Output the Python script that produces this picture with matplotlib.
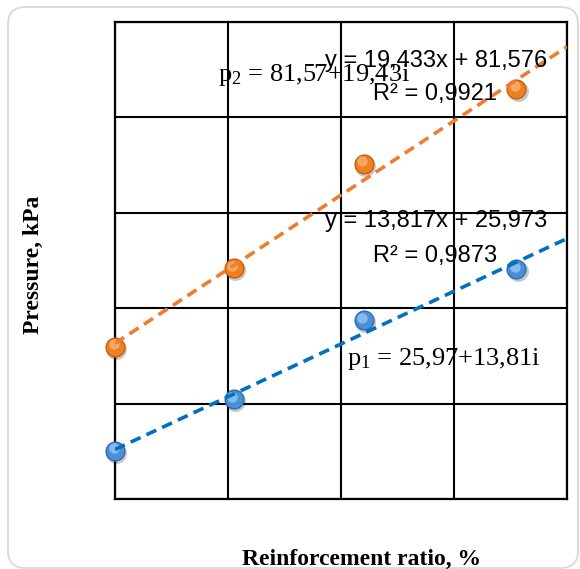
import numpy as np
import matplotlib
matplotlib.use('Agg')
import matplotlib.pyplot as plt
from matplotlib.patches import FancyBboxPatch
from matplotlib.transforms import offset_copy

plt.rcParams['mathtext.fontset'] = 'custom'
plt.rcParams['mathtext.rm'] = 'Liberation Serif'
plt.rcParams['mathtext.it'] = 'Liberation Serif:italic'

# measured data: reinforcement ratio (%) vs pressure (kPa)
ratio = [0.0, 2.1, 4.4, 7.1]
p_lower = [25.2, 52.4, 93.8, 120.4]
p_upper = [79.8, 121.0, 175.6, 214.9]

# linear trendlines (slope, intercept) and R^2
fit_lower = (13.817, 25.973)
fit_upper = (19.433, 81.576)
r2_lower = 0.9873
r2_upper = 0.9921

# rounded model equations written next to the data
eq_lower = ('25,97', '13,81')
eq_upper = ('81,57', '19,43')

x_lim = (0, 8)
y_lim = (0, 250)
x_grid = [0, 2, 4, 6, 8]
y_grid = [0, 50, 100, 150, 200, 250]

ORANGE = '#ED7D31'
BLUE = '#0070C0'
SERIF = ['Liberation Serif', 'DejaVu Serif']
SANS = ['Liberation Sans', 'DejaVu Sans']


def fmt(v, nd):
    return f'{v:.{nd}f}'.replace('.', ',')


def sphere(ax, x, y, base, light, dark):
    """Excel-like glossy markers: shadow, body and highlight."""
    shadow = offset_copy(ax.transData, fig=ax.figure, x=1.0, y=-1.6, units='points')
    ax.plot(x, y, 'o', ms=15, color='#000000', alpha=0.22, mew=0,
            transform=shadow, zorder=3, clip_on=False)
    ax.plot(x, y, 'o', ms=14.5, color=dark, mew=0, zorder=4, clip_on=False)
    ax.plot(x, y, 'o', ms=12.5, color=base, mew=0, zorder=4, clip_on=False)
    hl = offset_copy(ax.transData, fig=ax.figure, x=-1.0, y=1.8, units='points')
    ax.plot(x, y, 'o', ms=7.5, color=light, mew=0, alpha=0.75,
            transform=hl, zorder=4, clip_on=False)


def fig_text(px, py, s, **kw):
    fig.text(px / 580, 1 - py / 569, s, zorder=6, **kw)


fig = plt.figure(figsize=(5.8, 5.69), dpi=100)

# rounded chart-area border
border = FancyBboxPatch((8 / 580, 1 - 568 / 569), (578 - 8) / 580, (568 - 7) / 569,
                        boxstyle='round,pad=0,rounding_size=0.03',
                        transform=fig.transFigure, facecolor='none',
                        edgecolor='#D9D9D9', lw=1.3, zorder=0)
fig.patches.append(border)

ax = fig.add_axes([115 / 580, 1 - 499 / 569, (567 - 115) / 580, (499 - 22) / 569])
ax.set_xlim(*x_lim)
ax.set_ylim(*y_lim)
ax.set_xticks(x_grid)
ax.set_yticks(y_grid)
ax.tick_params(length=0, labelbottom=False, labelleft=False)
ax.grid(True, color='black', lw=1.5)
for s in ax.spines.values():
    s.set_color('black')
    s.set_linewidth(1.6)
ax.set_axisbelow(True)

sphere(ax, ratio, p_lower, '#4A90D9', '#9CC8F2', '#2E6FB5')
sphere(ax, ratio, p_upper, '#EE7F22', '#F8B676', '#C85F0E')

xs = np.array(x_lim, dtype=float)
ax.plot(xs, fit_lower[0] * xs + fit_lower[1], '--', color=BLUE, lw=2.6,
        dashes=(3, 1.8), zorder=5)
ax.plot(xs, fit_upper[0] * xs + fit_upper[1], '--', color=ORANGE, lw=2.6,
        dashes=(3, 1.8), zorder=5)

# trendline labels
fig_text(436, 67, f'y = {fmt(fit_upper[0], 3)}x + {fmt(fit_upper[1], 3)}',
         ha='center', va='baseline', fontsize=17, family=SANS)
fig_text(435, 100, f'R² = {fmt(r2_upper, 4)}',
         ha='center', va='baseline', fontsize=17, family=SANS)
fig_text(436, 227, f'y = {fmt(fit_lower[0], 3)}x + {fmt(fit_lower[1], 3)}',
         ha='center', va='baseline', fontsize=17, family=SANS)
fig_text(435, 262, f'R² = {fmt(r2_lower, 4)}',
         ha='center', va='baseline', fontsize=17, family=SANS)

# model equations
fig_text(218, 81, r'p$_2$ = ' + f'{eq_upper[0]}+{eq_upper[1]}i',
         ha='left', va='baseline', fontsize=19, family=SERIF)
fig_text(347, 365, r'p$_1$ = ' + f'{eq_lower[0]}+{eq_lower[1]}i',
         ha='left', va='baseline', fontsize=19, family=SERIF)

fig_text(33, 265, 'Pressure, kPa', rotation=90, ha='center', va='center',
         fontsize=17, fontweight='bold', family=SERIF)
fig_text(362, 565, 'Reinforcement ratio, %', ha='center', va='baseline',
         fontsize=17, fontweight='bold', family=SERIF)

fig.savefig('out.png', dpi=100)
